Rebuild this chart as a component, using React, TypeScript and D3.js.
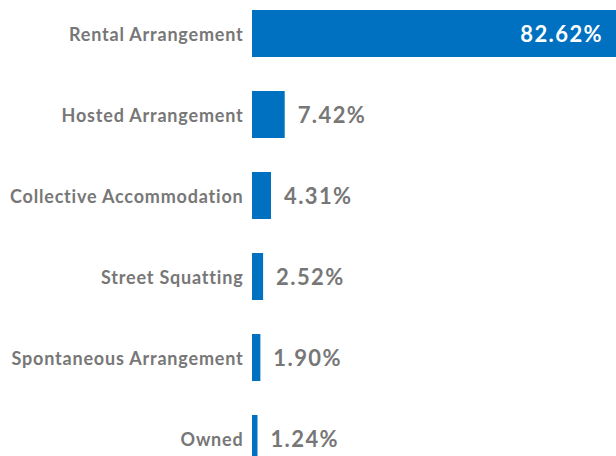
import React, { useRef, useEffect } from 'react';
import * as d3 from 'd3';

const categories = [
  'Rental Arrangement',
  'Hosted Arrangement',
  'Collective Accommodation',
  'Street Squatting',
  'Spontaneous Arrangement',
  'Owned',
];
const shares = [82.62, 7.42, 4.31, 2.52, 1.9, 1.24];
const shareLabels = ['82.62%', '7.42%', '4.31%', '2.52%', '1.90%', '1.24%'];

const W = 616;
const H = 456;

const App = () => {
  const ref = useRef<SVGSVGElement>(null);

  useEffect(() => {
    const svg = d3.select(ref.current);
    svg.selectAll('*').remove();

    const margin = { top: 10, left: 252, right: 0 };
    const step = 81;

    const x = d3
      .scaleLinear()
      .domain([0, d3.max(shares)!])
      .range([0, W - margin.left - margin.right]);

    const y = d3
      .scaleBand()
      .domain(categories)
      .range([margin.top - 17, margin.top - 17 + step * categories.length])
      .paddingInner(34 / 81)
      .paddingOuter(17 / 81);

    const data = categories.map((c, i) => ({ c, v: shares[i], label: shareLabels[i], i }));

    const g = svg.append('g');

    g.selectAll('.bar')
      .data(data)
      .enter()
      .append('rect')
      .attr('class', 'bar')
      .attr('x', margin.left)
      .attr('y', d => y(d.c)!)
      .attr('width', d => x(d.v))
      .attr('height', y.bandwidth())
      .attr('fill', '#0070c0');

    // category labels
    g.selectAll('.cat')
      .data(data)
      .enter()
      .append('text')
      .attr('x', 243.5)
      .attr('y', d => y(d.c)! + y.bandwidth() / 2 + 7)
      .attr('text-anchor', 'end')
      .attr('fill', '#777777')
      .style('font-family', 'Lato, sans-serif')
      .style('font-weight', 700)
      .style('font-size', '18px')
      .style('letter-spacing', '0.8px')
      .text(d => d.c);

    // value labels
    g.selectAll('.val')
      .data(data)
      .enter()
      .append('text')
      .attr('x', d => (d.i === 0 ? margin.left + x(d.v) - 13 : margin.left + x(d.v) + 13))
      .attr('y', d => y(d.c)! + y.bandwidth() / 2 + 8)
      .attr('text-anchor', d => (d.i === 0 ? 'end' : 'start'))
      .attr('fill', d => (d.i === 0 ? '#ffffff' : '#777777'))
      .style('font-family', 'Lato, sans-serif')
      .style('font-weight', 700)
      .style('font-size', '22px')
      .style('letter-spacing', '1.4px')
      .text(d => d.label);
  }, []);

  return (
    <div style={{ position: 'absolute', left: 0, top: 0, width: W, height: H, overflow: 'hidden' }}>
      <svg ref={ref} width={W} height={H}></svg>
    </div>
  );
};

export default App;
